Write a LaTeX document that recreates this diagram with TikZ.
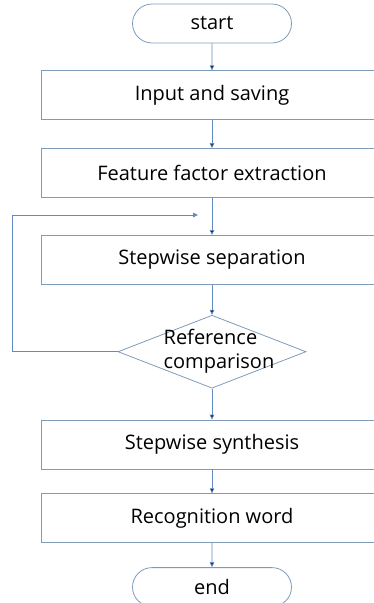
\documentclass[tikz,border=0pt]{standalone}
\usepackage{fontspec}
\setmainfont{Open Sans}
\usetikzlibrary{arrows.meta,positioning,shapes.geometric,shapes.misc}
\definecolor{edgeblue}{HTML}{7F9BBA}
\definecolor{flowblue}{HTML}{628AC2}
\tikzset{
  every node/.style={font=\fontsize{20}{24}\selectfont},
  terminal/.style={rounded rectangle,draw=edgeblue,line width=0.8pt,minimum width=159pt,minimum height=39pt,inner sep=0pt},
  stepbox/.style={rectangle,draw=edgeblue,line width=0.8pt,minimum width=342pt,minimum height=49pt,inner sep=0pt},
  decision/.style={diamond,draw=edgeblue,line width=0.8pt,minimum width=188pt,minimum height=73pt,inner sep=0pt},
  flow/.style={draw=flowblue,line width=0.8pt}
}
\begin{document}
\begin{tikzpicture}[x=1pt,y=1pt,>={Triangle[length=5pt,width=4.5pt]}]
        \useasboundingbox (0,0) rectangle (374,-603);
        \clip (0,0) rectangle (374,-603);
        \node[terminal] (start) at (212,-23.5) {start};
        \node[stepbox,below=27pt of start] (input) {Input and saving};
        \node[stepbox,below=28pt of input] (feature) {Feature factor extraction};
        \node[stepbox,below=37pt of feature] (separate) {Stepwise separation};
        \node[decision,below=30pt of separate] (cmp) {};
        \node[align=left,xshift=7pt] at (cmp) {Reference\\comparison};
        \node[stepbox,below=31pt of cmp] (synth) {Stepwise synthesis};
        \node[stepbox,below=24pt of synth] (word) {Recognition word};
        \node[terminal,below=24pt of word] (end) {end};
        \coordinate[below=17pt of feature.south,xshift=-14pt] (join);

        \path[flow,->]
          (start) edge (input)
          (input) edge (feature)
          (feature) edge (separate)
          (separate) edge (cmp)
          (cmp) edge (synth)
          (synth) edge (word)
          (word) edge (end);
        % back loop to the separation step
        \draw[flow,->] (cmp.west) -- ++(-105pt,0) |- (join);
      \end{tikzpicture}
\end{document}
